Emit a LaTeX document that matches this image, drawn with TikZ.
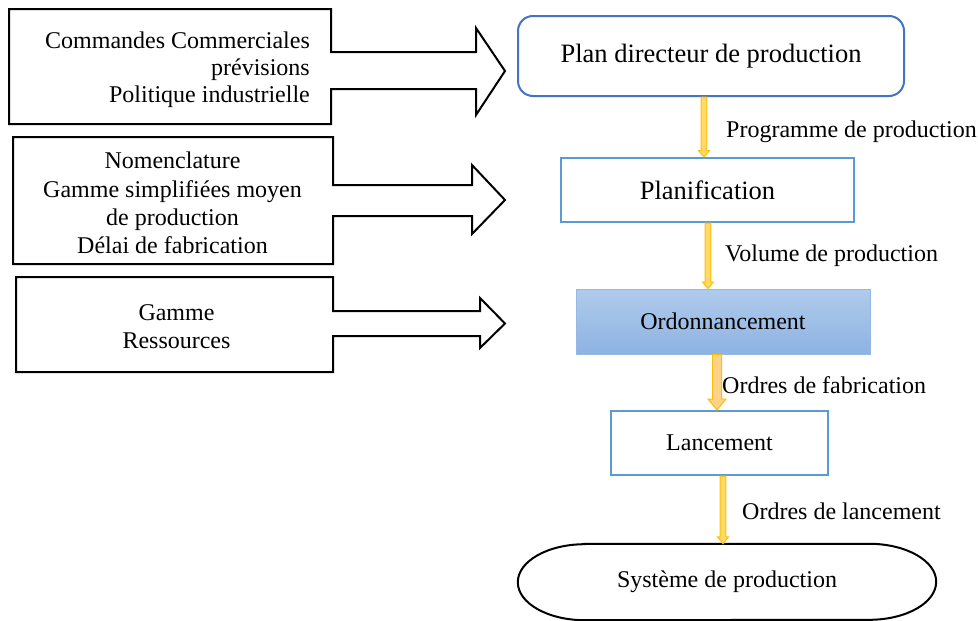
\documentclass[tikz,border=0pt]{standalone}
\usepackage{fontspec}
\setmainfont{Liberation Serif}
\usetikzlibrary{calc}

\definecolor{pdpblue}{HTML}{4472C4}
\definecolor{boxblue}{HTML}{5B9BD5}
\definecolor{ordoedge}{HTML}{95B8E5}
\definecolor{ordotop}{HTML}{B0CBEC}
\definecolor{ordobot}{HTML}{8DB3E2}
\definecolor{arrowedge}{HTML}{FFC000}
\definecolor{arrowfill}{HTML}{FFDA6B}
\definecolor{arrowpeach}{HTML}{FDD38A}

% vertical block arrow between two named nodes:
% #1 style, #2 start anchor, #3 end anchor, #4 x shift, #5 half shaft, #6 half head, #7 head length
\newcommand\flowdown[7]{%
  \filldraw[#1] let \p1=($(#2)+(#4,0)$), \p2=(#3) in
    (\x1-#5,\y1) -- (\x1-#5,\y2+#7) -- (\x1-#6,\y2+#7) -- (\x1,\y2)
    -- (\x1+#6,\y2+#7) -- (\x1+#5,\y2+#7) -- (\x1+#5,\y1) -- cycle;}

\begin{document}
\begin{tikzpicture}[x=1pt,y=-1pt,
  txt/.style={font=\fontsize{24}{28}\selectfont, inner sep=0pt},
  bigtxt/.style={font=\fontsize{26.5}{30}\selectfont},
  callout/.style={draw=black, line width=2pt, line join=miter},
  pdpbox/.style={draw=pdpblue, line width=2pt, rounded corners=15pt,
    minimum width=386, minimum height=80, bigtxt},
  planbox/.style={draw=boxblue, line width=2pt,
    minimum width=293, minimum height=64, bigtxt},
  ordobox/.style={draw=ordoedge, line width=1pt, top color=ordotop, bottom color=ordobot,
    minimum width=294, minimum height=65, font=\fontsize{24}{28}\selectfont},
  lancbox/.style={draw=boxblue, line width=2pt,
    minimum width=217, minimum height=64, font=\fontsize{24}{28}\selectfont},
  sysnode/.style={minimum width=418, minimum height=76, font=\fontsize{24}{28}\selectfont},
  thinarrow/.style={draw=arrowedge, fill=arrowfill, line width=1pt, line join=miter},
  widearrow/.style={draw=arrowedge, fill=arrowpeach, line width=1pt, line join=miter}
]
\useasboundingbox (0,0) rectangle (978,621);

% input callouts on the left
\draw[callout] (9,9) -- (331,9) -- (331,52) -- (476,52) -- (476,28) -- (505,71)
  -- (476,115) -- (476,89) -- (331,89) -- (331,124) -- (9,124) -- cycle;
\draw[callout] (13,137) -- (333,137) -- (333,185) -- (472,185) -- (472,165) -- (505,200)
  -- (472,234) -- (472,216) -- (333,216) -- (333,264) -- (13,264) -- cycle;
\draw[callout] (16,277) -- (333,277) -- (333,311) -- (480,311) -- (480,298) -- (505,323.5)
  -- (480,348) -- (480,336) -- (333,336) -- (333,372) -- (16,372) -- cycle;

\node[txt, anchor=base east] (in1a) at (310,48) {Commandes Commerciales};
\node[txt, anchor=base east] (in1b) at (310,75) {prévisions};
\node[txt, anchor=base east] (in1c) at (310,102) {Politique industrielle};

\node[txt, anchor=base] (in2a) at (172.5,168) {Nomenclature};
\node[txt, anchor=base] (in2b) at (172.5,197) {Gamme simplifiées moyen};
\node[txt, anchor=base] (in2c) at (172.5,225) {de production};
\node[txt, anchor=base] (in2d) at (172.5,253) {Délai de fabrication};

\node[txt, anchor=base] (in3a) at (176.5,320) {Gamme};
\node[txt, anchor=base] (in3b) at (176.5,348) {Ressources};

% main chain
\node[pdpbox] (pdp) at (711,56) {Plan directeur de production};
\node[planbox] (plan) at (707.5,190) {Planification};
\node[ordobox] (ordo) at (723,321.5) {Ordonnancement};
\node[lancbox] (lanc) at (719.5,443) {Lancement};
\node[sysnode] (sys) at (727,582) {Système de production};
\draw[line width=2pt]
  ($(sys.north west)+(67,0)$) -- ($(sys.north east)+(-67,0)$)
  arc[start angle=90, end angle=-90, x radius=67pt, y radius=38pt]
  -- ($(sys.south west)+(67,0)$)
  arc[start angle=-90, end angle=-270, x radius=67pt, y radius=38pt] -- cycle;

% connectors
\flowdown{thinarrow}{pdp.south}{plan.north}{-7}{2.8pt}{5.5pt}{6.5pt}
\flowdown{thinarrow}{plan.south}{ordo.north}{0.5}{2.8pt}{5.5pt}{6.5pt}
\flowdown{widearrow}{ordo.south}{lanc.north}{-6}{4.5pt}{9pt}{11pt}
\flowdown{thinarrow}{lanc.south}{sys.north}{3.5}{2.8pt}{5.5pt}{7pt}

% connector labels
\node[txt, anchor=base west] (l1) at (726,137) {Programme de production};
\node[txt, anchor=base west] (l2) at (725,261) {Volume de production};
\node[txt, anchor=base west] (l3) at (722,393) {Ordres de fabrication};
\node[txt, anchor=base west] (l4) at (742,519) {Ordres de lancement};
\end{tikzpicture}
\end{document}
